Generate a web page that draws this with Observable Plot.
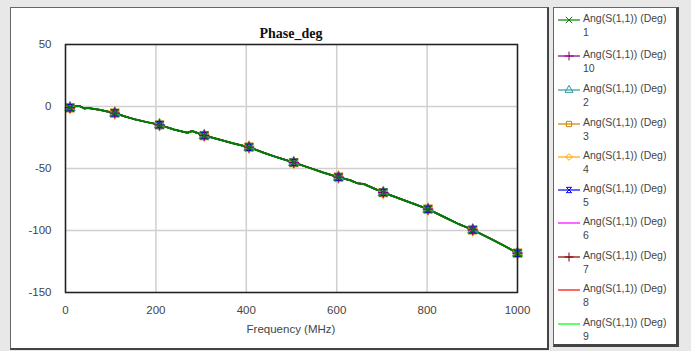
<!DOCTYPE html>
<html><head><meta charset="utf-8">
<script src="https://cdn.jsdelivr.net/npm/d3@7"></script>
<script src="https://cdn.jsdelivr.net/npm/@observablehq/plot@0.6"></script>
<style>
html,body{margin:0;padding:0;}
body{width:691px;height:351px;background:#e8e8e8;position:relative;overflow:hidden;font-family:"Liberation Sans",Arial,sans-serif;}
#frame{position:absolute;left:10px;top:7px;width:536px;height:340px;background:#fff;border:1px solid #666;border-right:2px solid #444;border-bottom:2px solid #444;}
#chart{position:absolute;left:0;top:0;}
#title{position:absolute;left:54px;width:452px;top:18px;text-align:center;font:bold 14px "Liberation Serif","Times New Roman",serif;color:#111;}
#xlabel{position:absolute;left:54px;width:452px;top:315px;text-align:center;font-size:11.5px;color:#444;}
#legend{position:absolute;left:553px;top:7px;width:122px;height:336px;background:#fff;border:1px solid #666;border-right:3px solid #444;border-bottom:3px solid #444;}
.entry{position:absolute;left:0;width:122px;height:30px;font-size:10.5px;color:#444;line-height:14px;}
.entry svg{position:absolute;left:3px;top:2px;}
.entry .t{position:absolute;left:29px;top:0;}
</style>
</head><body>
<div id="frame"><div id="chart"></div><div id="title"></div><div id="xlabel"></div></div>
<div id="legend"></div>
<script>
// Frequency (MHz) and phase (deg); all ten traces overlap.
const freq  = [10, 20, 30, 42, 50, 60, 75, 90, 109, 130, 150, 180, 208, 240, 260, 270, 280, 307, 340, 370, 406, 440, 470, 505, 540, 570, 604, 630, 645, 660, 703, 740, 770, 802, 840, 870, 901, 940, 970, 1000];
const phase = [-1, 0.2, 0.5, -1.6, -1.2, -1.8, -2.6, -3.8, -5.3, -7.8, -10, -12.6, -14.8, -18.5, -20.3, -21.2, -19.8, -23.4, -26.6, -29.6, -32.8, -37.5, -41.2, -45.2, -49.5, -53.2, -57, -59.5, -61.8, -62.5, -69.4, -74.4, -78.4, -82.8, -89.5, -94.8, -99.5, -106.5, -112.2, -118.3];
const markerFreq  = [10, 109, 208, 307, 406, 505, 604, 703, 802, 901, 1000];
const markerPhase = [-1, -5.3, -14.8, -23.4, -32.8, -45.2, -57, -69.4, -82.8, -99.5, -118.3];
const seriesNames = ["1", "10", "2", "3", "4", "5", "6", "7", "8", "9"];
const seriesColors = ["#008000", "#800080", "#2a9a9a", "#cc8400", "#ffa500", "#0000ff", "#ff00ff", "#800000", "#ff0000", "#00ff00"];
const seriesSymbols = ["times", "plus", "triangle", "square", "diamond", "hourglass", null, "plus", null, null];
const xTicks = [0, 200, 400, 600, 800, 1000];
const yTicks = [50, 0, -50, -100, -150];
const titleText = "Phase_deg";
const xLabelText = "Frequency (MHz)";
const legendLabel = "Ang(S(1,1)) (Deg)";

const hourglass = {draw(ctx, size) {
  const s = Math.sqrt(size) / 2;
  ctx.moveTo(-s, -s); ctx.lineTo(s, -s); ctx.lineTo(-s, s); ctx.lineTo(s, s); ctx.closePath();
}};
const symOf = s => s === "hourglass" ? hourglass : s;

const rows = freq.map((f, i) => ({f, v: phase[i]}));
const mrows = markerFreq.map((f, i) => ({f, v: markerPhase[i]}));

const lineOrder = [9, 8, 7, 6, 5, 4, 3, 2, 1, 0];
const markerOrder = [3, 4, 2, 5, 1, 0];
const fmt = d => String(d);

const marks = [
  Plot.gridX(xTicks, {stroke: "#cfcfcf", strokeOpacity: 1, strokeWidth: 1.5}),
  Plot.gridY(yTicks, {stroke: "#cfcfcf", strokeOpacity: 1, strokeWidth: 1.5}),
  ...lineOrder.map(i => Plot.line(rows, {x: "f", y: "v", stroke: seriesColors[i], strokeWidth: i === 0 ? 2 : 1.5})),
  ...markerOrder.map(i => Plot.dot(mrows, {x: "f", y: "v", stroke: seriesColors[i], strokeWidth: 1.3, symbol: symOf(seriesSymbols[i]), r: i === 3 ? 4.5 : 3.5})),
  Plot.frame({stroke: "#222", strokeWidth: 1.5}),
  Plot.axisX(xTicks, {tickSize: 0, tickPadding: 13, label: null, tickFormat: fmt, fontSize: 11.5, color: "#444"}),
  Plot.axisY(yTicks, {tickSize: 0, tickPadding: 14, label: null, tickFormat: fmt, fontSize: 11.5, color: "#444"})
];

const chart = Plot.plot({
  width: 536, height: 340,
  marginLeft: 54, marginRight: 30, marginTop: 36, marginBottom: 56,
  x: {domain: [0, 1000]},
  y: {domain: [-150, 50]},
  style: {fontFamily: "'Liberation Sans', Arial, sans-serif", fontSize: "11.5px", color: "#444", background: "transparent"},
  marks
});
document.getElementById("chart").appendChild(chart);
document.getElementById("title").textContent = titleText;
document.getElementById("xlabel").textContent = xLabelText;

// legend
const leg = document.getElementById("legend");
const entryTop = [3, 39, 73, 107, 140, 173, 206, 240, 273, 307];
seriesNames.forEach((name, i) => {
  const div = document.createElement("div");
  div.className = "entry";
  div.style.top = entryTop[i] + "px";
  const svg = d3.create("svg").attr("width", 24).attr("height", 14);
  svg.append("line").attr("x1", 1).attr("x2", 23).attr("y1", 7).attr("y2", 7).attr("stroke", seriesColors[i]).attr("stroke-width", 1.2);
  const s = seriesSymbols[i];
  if (s) {
    const map = {times: d3.symbolTimes, plus: d3.symbolPlus, triangle: d3.symbolTriangle, square: d3.symbolSquare, diamond: d3.symbolDiamond2, hourglass};
    svg.append("path").attr("transform", "translate(12,7)").attr("d", d3.symbol(map[s], 28)()).attr("fill", "none").attr("stroke", seriesColors[i]).attr("stroke-width", 1);
  }
  div.appendChild(svg.node());
  const t = document.createElement("div");
  t.className = "t";
  t.innerHTML = legendLabel + "<br>" + name;
  div.appendChild(t);
  leg.appendChild(div);
});
</script>
</body></html>
